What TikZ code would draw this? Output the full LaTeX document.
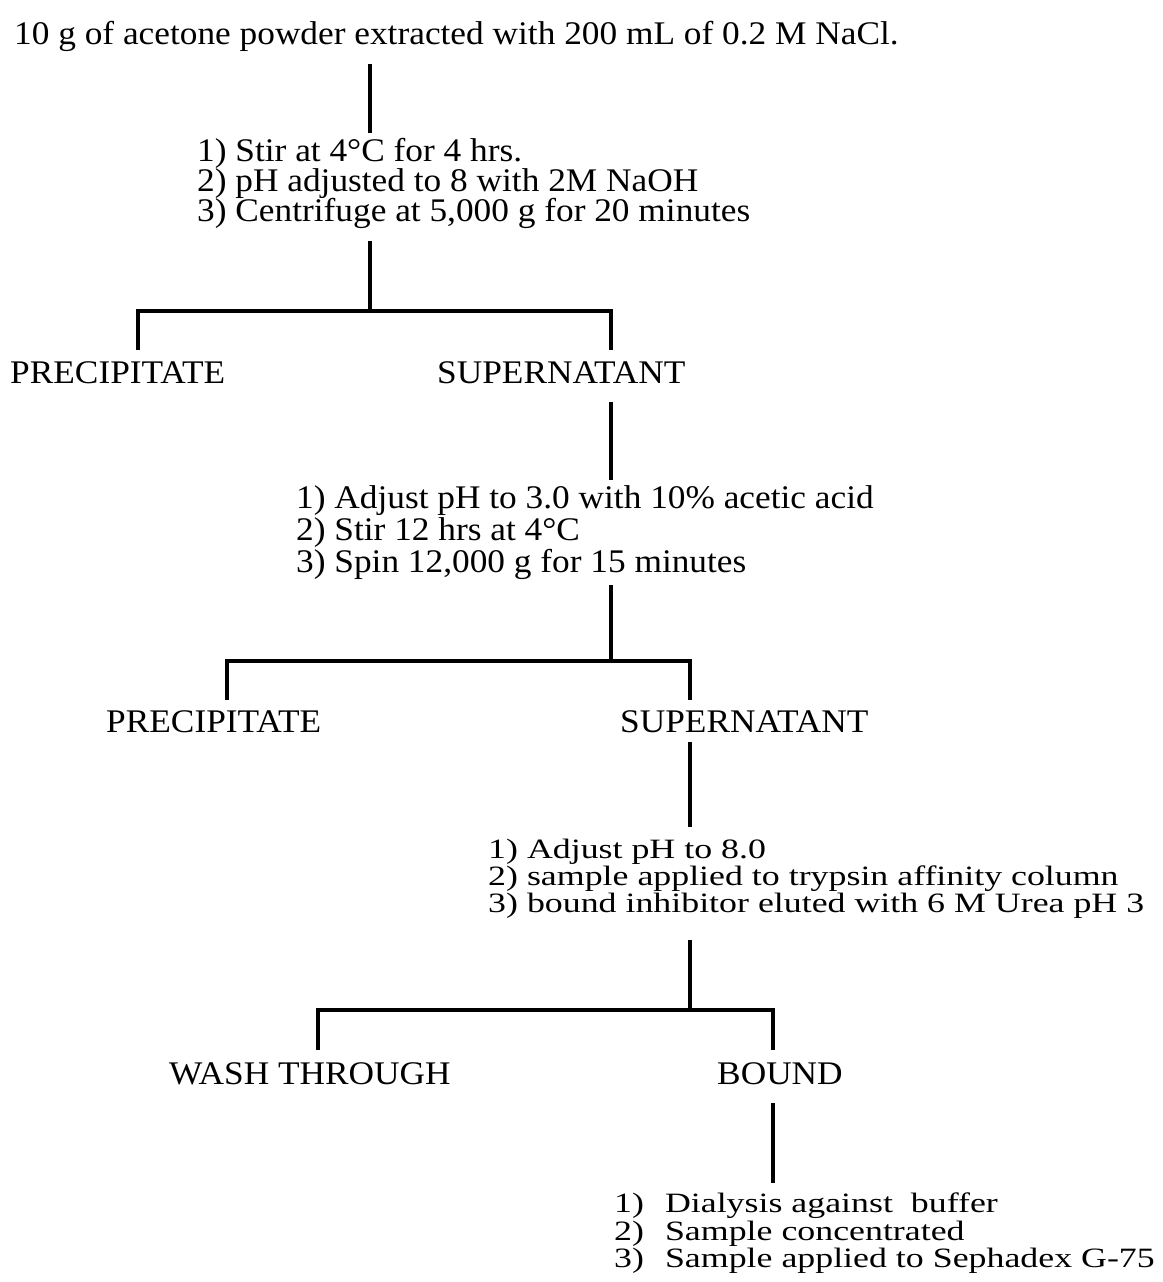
\documentclass[tikz,border=0pt]{standalone}
\usepackage{fontspec}
\setmainfont{Liberation Serif}[FakeStretch=1.07]
\newfontfamily\widefont{Liberation Serif}[FakeStretch=1.28]
\usetikzlibrary{positioning,calc}
\setlength{\lineskiplimit}{-1000pt}
\begin{document}
\begin{tikzpicture}[x=1pt,y=-1pt,
	phase/.style={inner sep=0pt,anchor=base west,font=\fontsize{33}{33}\selectfont},
	steps/.style={inner sep=0pt,anchor=north west,align=left,font=\fontsize{33}{#1}\selectfont},
	widesteps/.style={inner sep=0pt,anchor=north west,align=left,font=\widefont\fontsize{28}{#1}\selectfont},
	flow/.style={line width=4pt}]
\useasboundingbox (0,0) rectangle (1162,1282);
\node[phase] (src) at (14,44) {10 g of acetone powder extracted with 200 mL of 0.2 M NaCl.};
\node[steps=30] (s1) at (197,138) {1) Stir at 4°C for 4 hrs.\\2) pH adjusted to 8 with 2M NaOH\\3) Centrifuge at 5,000 g for 20 minutes};
\node[phase] (p1) at (10,383) {PRECIPITATE};
\node[phase] (n1) at (437,383) {SUPERNATANT};
\node[steps=32] (s2) at (296,485) {1) Adjust pH to 3.0 with 10\% acetic acid\\2) Stir 12 hrs at 4°C\\3) Spin 12,000 g for 15 minutes};
\node[phase] (p2) at (106,732) {PRECIPITATE};
\node[phase] (n2) at (620,732) {SUPERNATANT};
\node[widesteps=27] (s3) at (488,839) {1) Adjust pH to 8.0\\2) sample applied to trypsin affinity column\\3) bound inhibitor eluted with 6 M Urea pH 3};
\node[phase] (w3) at (169,1084) {WASH THROUGH};
\node[phase] (b3) at (717,1084) {BOUND};
\node[widesteps=27.5] (s4) at (614,1193) {1)\hspace{21pt}Dialysis against\ \ buffer\\2)\hspace{21pt}Sample concentrated\\3)\hspace{21pt}Sample applied to Sephadex G-75};
\coordinate (j1) at (370,311);
\coordinate (j1l) at (138,350);
\coordinate (j1r) at (611,350);
\coordinate (j2) at (611,661);
\coordinate (j2l) at (227,700);
\coordinate (j2r) at (690,700);
\coordinate (j3) at (690,1010);
\coordinate (j3l) at (318,1050);
\coordinate (j3r) at (773,1050);
\draw[flow] ($(src.base -| j1)+(0,20)$) -- ($(s1.north -| j1)+(0,-5)$);
\draw[flow] ($(s1.south -| j1)+(0,12)$) -- (j1);
\draw[flow] (j1l) |- (j1) -| (j1r);
\draw[flow] ($(n1.base -| j1r)+(0,19)$) -- ($(s2.north -| j1r)+(0,-5)$);
\draw[flow] ($(s2.south -| j2)+(0,6)$) -- (j2);
\draw[flow] (j2l) |- (j2) -| (j2r);
\draw[flow] ($(n2.base -| j2r)+(0,10)$) -- ($(s3.north -| j2r)+(0,-12)$);
\draw[flow] ($(s3.south -| j3)+(0,21)$) -- (j3);
\draw[flow] (j3l) |- (j3) -| (j3r);
\draw[flow] ($(b3.base -| j3r)+(0,19)$) -- ($(s4.north -| j3r)+(0,-10)$);
\end{tikzpicture}
\end{document}
